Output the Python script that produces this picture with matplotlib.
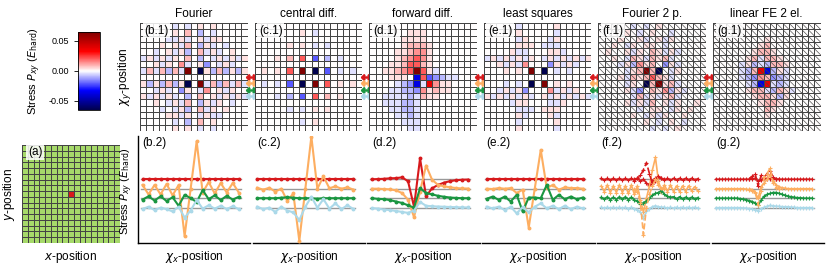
import matplotlib.pyplot as plt
from matplotlib.colors import ListedColormap
import matplotlib.cm as cm
import matplotlib.colors as mcolors

plt.rcParams['font.family'] = ['Liberation Sans', 'DejaVu Sans']
plt.rcParams['mathtext.fontset'] = 'dejavusans'
plt.rcParams['font.size'] = 8

# ---------------------------------------------------------------- data
methods = ['Fourier', 'central diff.', 'forward diff.', 'least squares',
           'Fourier 2 p.', 'linear FE 2 el.']
tags = ['b', 'c', 'd', 'e', 'f', 'g']

# heatmap cell codes -> stress P_xy (E_hard)
levels = {'N': -0.08, 's': -0.038, 'B': -0.021, 'b': -0.014, 'm': -0.009,
          '-': -0.004, '.': 0.0, '+': 0.004, 'p': 0.009, 'r': 0.014,
          'R': 0.021, 'S': 0.038, 'D': 0.08}

map_b = [".....-.-.+.+.....",
         ".....+.p.m.-.....",
         "....--+-.+-++....",
         "...+.+-p.m+-.-...",
         "..-.+-+m.p-+-.+..",
         "-+-+-+.p.m.-+-+-+",
         "..+-+.r-.+b.-+-..",
         "-p-pmp-D.N+mpm+m+",
         ".................",
         "+m+mpm+N.D-pmp-p-",
         "..-+-.b+.-r.+-+..",
         "+-+-+-.m.p.+-+-+-",
         "..+.-+-p.m+-+.-..",
         "...-.-+m.p-+.+...",
         "....++-+.-+--....",
         ".....-.m.p.+.....",
         ".....+.+.-.-....."]
map_c = [".................",
         ".......+.-.......",
         ".................",
         ".....+.+.-.-.....",
         ".................",
         "...+.p.R.B.m.-...",
         ".................",
         ".+.+.R.D.N.B.-.-.",
         ".................",
         ".-.-.B.N.D.R.+.+.",
         ".................",
         "...-.m.B.R.p.+...",
         ".................",
         ".....-.-.+.+.....",
         ".................",
         ".......-.+.......",
         "................."]
map_d = [".................",
         "......+++........",
         ".....++++........",
         ".....+ppp+.......",
         "....++prr+.......",
         "....+prRr+.......",
         "...++pRRp+.......",
         "..++prRDR+-......",
         "...+++.sRBbm--...",
         "....-mbs-Sr++....",
         "...--mmbr+p++....",
         "..----m-p++......",
         "..---mm-.........",
         "...--mm-.........",
         "....--m-.........",
         ".....---.........",
         "......--........."]
map_e = [".....-.....+.....",
         ".....+.....-.....",
         ".....-+...-+.....",
         ".....+++.---.....",
         "....+--...++-....",
         "-+-+-+-+.-+-+-+-+",
         "..+-+-r...b+-+-..",
         "...+.+.D.N.-.-...",
         ".................",
         "...-.-.N.D.+.+...",
         "..-+-+b...r-+-+..",
         "+-+-+-+-.+-+-+-+-",
         "....-++...--+....",
         ".....---.+++.....",
         ".....+-...+-.....",
         ".....-.....+.....",
         ".....+.....-....."]
map_f = [".....-.-.+.......",
         "....+.-.+..-.....",
         "...+..+-.+-+.....",
         "..+.-+.++.-......",
         ".+..+-+.p+-+-....",
         "..+.-p+-p+p-.....",
         "...-+mr+p.b+-....",
         "....-+pDpN.-+....",
         "...+-p+pRp+-.....",
         "....-+.NpD+p-....",
         "....+-b.p+rm+-...",
         ".....-p-+-+p-....",
         "....+-+-p.+-+..+.",
         "......-.++.-+.+..",
         ".....+.-+-+..+...",
         ".......+.-.+.-...",
         "........-.-.+...."]
map_g = [".................",
         ".................",
         "........+........",
         ".......+p........",
         "......+pp+.......",
         ".....+p-pp+......",
         "....-+m-mpp+.....",
         "....-mpSsm+-.....",
         "....-mbrpbm-.....",
         ".....-msS-m-.....",
         ".....+pp-mp+-....",
         "......+pp+m+.....",
         ".......+pp+......",
         "........p+.......",
         "........+........",
         ".................",
         "................."]
heatmaps = [map_b, map_c, map_d, map_e, map_f, map_g]

# line cuts along rows 8..11 (unit = spacing between the grey baselines)
pos17 = [0, 1, 2, 3, 4, 5, 6, 7, 8, 9, 10, 11, 12, 13, 14, 15, 16]
pos33 = [0, 0.5, 1, 1.5, 2, 2.5, 3, 3.5, 4, 4.5, 5, 5.5, 6, 6.5, 7, 7.5, 8,
         8.5, 9, 9.5, 10, 10.5, 11, 11.5, 12, 12.5, 13, 13.5, 14, 14.5, 15,
         15.5, 16]
pos_mid = [5.5, 6, 6.5, 7, 7.5, 8, 8.5, 9, 9.5, 10, 10.5]

red_b = [0, 0, 0, 0, 0, 0, 0, 0, 0, 0, 0, 0, 0, 0, 0, 0, 0]
orange_b = [0.4, -0.6, 0.4, -0.6, 0.5, -0.7, 0.4, -5.0, 0.0, 5.0, -0.4, 0.7,
            -0.5, 0.6, -0.4, 0.6, -0.4]
green_b = [-0.15, 0.2, -0.25, 0.2, -0.3, 0.1, -0.8, 0.35, 0.0, -0.4, 0.85,
           -0.1, 0.3, -0.2, 0.25, -0.15, 0.15]
lblue_b = [-0.15, 0.1, -0.25, 0.0, -0.15, -0.4, 0.1, -1.05, -0.3, 0.8, -0.1,
           0.25, -0.1, 0.2, -0.15, 0.15, -0.15]

red_c = [0, 0, 0, 0, 0, 0, 0, 0, 0, 0, 0, 0, 0, 0, 0, 0, 0]
orange_c = [0.1, -0.1, 0.1, -0.3, 0.0, -1.3, -0.5, -5.5, 0.0, 5.5, 0.0, 1.3,
            0.05, 0.25, 0.0, 0.15, -0.1]
green_c = [0, 0, 0, 0, 0.05, 0.1, 0.05, 0, 0, 0, -0.05, 0, 0, 0, 0, 0, 0]
lblue_c = [0.1, -0.15, 0.0, -0.45, 0.1, -0.3, -0.5, -1.3, 0.1, 1.15, 0.0,
           0.9, -0.1, 0.45, -0.15, 0.25, -0.15]

red_d = [0.0, 0.02, 0.05, 0.1, 0.12, 0.2, -0.2, -2.9, 2.2, -1.8, -0.95, -0.6,
         -0.35, -0.2, -0.1, -0.05, -0.03]
orange_d = [0.0, 0.0, -0.03, -0.07, -0.17, -0.45, -1.15, -3.0, -0.3, 2.45,
            0.95, 0.4, 0.25, 0.15, 0.07, 0.03, 0.02]
green_d = [0.0, -0.07, -0.1, -0.2, -0.35, -0.5, -0.75, -1.0, 1.05, 0.55, 0.4,
           0.25, 0.15, 0.07, 0.03, 0.0, 0.0]
lblue_d = [-0.05, -0.1, -0.2, -0.25, -0.35, -0.45, -0.55, -0.3, 0.6, 0.2,
           0.15, 0.12, 0.1, 0.07, 0.05, 0.03, 0.02]

red_e = [0, 0, 0, 0, 0, 0, 0, 0, 0, 0, 0, 0, 0, 0, 0, 0, 0]
orange_e = [0.0, -0.03, 0.07, 0.0, 0.07, -0.45, -0.1, -4.1, 0.0, 4.1, 0.07,
            0.4, -0.1, 0.15, 0.07, 0.07, 0.0]
green_e = [-0.07, 0.17, -0.17, 0.17, -0.35, 0.35, -1.4, 0.07, 0.07, 0.0, 1.4,
           -0.17, 0.35, -0.1, 0.17, -0.1, 0.07]
lblue_e = [0.1, -0.07, 0.1, -0.25, 0.1, -0.6, 0.07, -0.5, 0.1, 0.45, -0.07,
           0.2, -0.15, 0.2, -0.15, 0.1, -0.07]

red_f = [0.1, -0.1, 0.1, -0.1, 0.1, -0.1, 0.1, -0.1, 0.1, -0.1, 0.1, -0.15,
         0.1, -0.2, 0.0, -0.4, -0.6, -0.2, 0.1, 0.2, 0.1, -0.1, 0.1, -0.1, 0.1,
         -0.1, 0.1, -0.1, 0.1, -0.1, 0.1, -0.1, 0.05]
orange_f = [0.3, -0.3, 0.4, -0.4, 0.3, -0.4, 0.4, -0.4, 0.3, -0.5, 0.4, -0.6,
            0.3, -1.2, -2.45, -1.0, 0.3, 2.0, 3.3, 0.8, -0.3, 0.4, -0.3, 0.4,
            -0.3, 0.3, -0.3, 0.3, -0.3, 0.3, -0.2, 0.2, -0.2]
green_f = [0.1, -0.1, 0.15, -0.15, 0.1, -0.15, 0.15, -0.1, 0.15, -0.15, 0.1,
           -0.2, -0.3, -0.6, -0.5, -0.3, 0.0, 0.3, 0.5, 0.6, 0.8, 0.4, 0.2,
           0.1, 0.15, -0.1, 0.15, -0.1, 0.1, -0.1, 0.1, -0.1, 0.05]
lblue_f = [0.05, -0.05, 0.05, -0.05, 0.05, -0.05, 0.05, -0.05, 0.05, -0.1,
           0.05, -0.1, -0.2, -0.5, -1.05, -0.4, -0.1, 0.1, 0.2, 0.1, 0.05,
           0.05, -0.05, 0.05, -0.05, 0.05, -0.05, 0.05, -0.05, 0.05, -0.05,
           0.05, -0.05]
red_f2 = [0, 0.1, 0.4, 1.0, 1.75, 0.6, -0.5, -0.2, 0.3, 0.1, 0]
orange_f2 = [0, -0.3, -1.5, -4.85, -2.0, -0.6, 0.3, 1.0, 0.4, 0.1, 0]

red_g = [0, 0, 0, 0, 0, 0, 0, 0, 0, 0, 0, 0, 0.05, 0.1, -0.2, -0.1, 0.1, 0.0,
         0.05, 0, 0, 0, 0, 0, 0, 0, 0, 0, 0, 0, 0, 0, 0]
orange_g = [0, 0, 0, 0, 0, 0, 0, 0, 0, 0, -0.05, -0.1, -0.2, -0.4, -1.0, 0.2,
            0.6, 1.0, 1.4, 0.8, 0.4, 0.2, 0.1, 0.05, 0, 0, 0, 0, 0, 0, 0, 0, 0]
green_g = [0, 0, 0, 0, 0, 0, 0, 0, -0.05, -0.1, -0.15, -0.25, -0.35, -0.5,
           -0.75, -0.2, 0.2, 0.4, 0.5, 0.6, 0.6, 0.5, 0.4, 0.3, 0.2, 0.15, 0.1,
           0.05, 0.05, 0, 0, 0, 0]
lblue_g = [0, 0, 0, 0, 0, 0, 0, 0, 0, -0.05, -0.05, -0.1, -0.15, -0.2, -0.3,
           -0.1, 0.05, 0.15, 0.25, 0.2, 0.15, 0.15, 0.1, 0.1, 0.1, 0.05, 0.05,
           0, 0, 0, 0, 0, 0]
red_g2 = [0, 0.3, 0.6, -0.7, 0.4, 0.2, 0.6, 0.9, 0.2, 0, 0]
orange_g2 = [0, -0.1, -0.3, -1.7, -0.2, 1.2, 1.6, 2.2, 0.6, 0.1, 0]

# (positions, values, linestyle, colour index)
cuts = {
    'b': [(pos17, red_b, '-', 0), (pos17, orange_b, '-', 1),
          (pos17, green_b, '-', 2), (pos17, lblue_b, '-', 3)],
    'c': [(pos17, red_c, '-', 0), (pos17, orange_c, '-', 1),
          (pos17, green_c, '-', 2), (pos17, lblue_c, '-', 3)],
    'd': [(pos17, red_d, '-', 0), (pos17, orange_d, '-', 1),
          (pos17, green_d, '-', 2), (pos17, lblue_d, '-', 3)],
    'e': [(pos17, red_e, '-', 0), (pos17, orange_e, '-', 1),
          (pos17, green_e, '-', 2), (pos17, lblue_e, '-', 3)],
    'f': [(pos33, red_f, '-', 0), (pos33, orange_f, '-', 1),
          (pos33, green_f, '-', 2), (pos33, lblue_f, '-', 3),
          (pos_mid, red_f2, '--', 0), (pos_mid, orange_f2, '--', 1)],
    'g': [(pos33, red_g, '-', 0), (pos33, orange_g, '-', 1),
          (pos33, green_g, '-', 2), (pos33, lblue_g, '-', 3),
          (pos_mid, red_g2, '--', 0), (pos_mid, orange_g2, '--', 1)],
}
cut_rows = [8, 9, 10, 11]
cut_offsets = [3, 2, 1, 0]
cut_colors = ['#d7191c', '#fdae61', '#1a9641', '#abd9e9']

n_cells = 17
defect = (8, 8)

# ---------------------------------------------------------------- figure
W, H = 831, 266
fig = plt.figure(figsize=(W / 100, H / 100), dpi=100)


def box(x0, y0, x1, y1):
    return fig.add_axes([x0 / W, 1 - y1 / H, (x1 - x0) / W, (y1 - y0) / H])


vmax = 0.065
norm = mcolors.Normalize(-vmax, vmax)
cmap = plt.get_cmap('seismic')
tagbox = dict(fc='white', ec='none', alpha=0.85, pad=1.2)
gridcol = '#444444'

# colorbar
cax = box(78, 32, 100, 110)
cb = fig.colorbar(cm.ScalarMappable(norm=norm, cmap=cmap), cax=cax,
                  ticks=[-0.05, 0, 0.05], format='%.2f')
cax.yaxis.set_ticks_position('left')
cax.yaxis.set_label_position('left')
cax.tick_params(labelsize=6.5, length=3, width=0.6)
cb.outline.set_linewidth(0.6)
cb.set_label('Stress $P_{xy}$ ($E_\\mathrm{hard}$)', fontsize=8)
cax.yaxis.set_label_coords(-1.6, 0.5)

# panel (a): the simulation grid with the defect cell
axa = box(22, 145, 120, 243)
grid_a = [[1 if (r, c) == defect else 0 for c in range(n_cells)]
          for r in range(n_cells)]
axa.pcolormesh(grid_a, cmap=ListedColormap(['#a6d96a', '#d7191c']),
               edgecolors=gridcol, linewidth=0.45)
axa.set_xlim(0, n_cells)
axa.set_ylim(n_cells, 0)
axa.set_xticks([])
axa.set_yticks([])
for s in axa.spines.values():
    s.set_visible(False)
axa.set_xlabel('$x$-position', fontsize=8.5, labelpad=4)
axa.set_ylabel('$y$-position', fontsize=8.5)
axa.yaxis.set_label_coords(-0.05, 0.5)
axa.text(0.06, 0.985, '(a)', transform=axa.transAxes, va='top', ha='left',
         fontsize=8.5, bbox=tagbox)

# top row: stress maps
for i, (name, tag, grid) in enumerate(zip(methods, tags, heatmaps)):
    x0 = 140 + 114.6 * i
    ax = box(x0, 23, x0 + 107.5, 131)
    vals = [[levels[ch] for ch in row] for row in grid]
    ax.pcolormesh(vals, cmap=cmap, norm=norm, edgecolors=gridcol,
                  linewidth=0.45)
    if tag in ('f', 'g'):
        for k in range(n_cells):
            for j in range(n_cells):
                ax.plot([j, j + 1], [k, k + 1], color=gridcol, lw=0.45)
    ax.set_xlim(0, n_cells)
    ax.set_ylim(n_cells, 0)
    ax.set_xticks([])
    ax.set_yticks([])
    for s in ax.spines.values():
        s.set_visible(False)
    ax.set_title(name, fontsize=8.5, pad=4)
    ax.text(0.04, 0.985, '(%s.1)' % tag, transform=ax.transAxes, va='top',
            ha='left', fontsize=8.5, bbox=tagbox)
    if i == 0:
        ax.set_ylabel('$\\chi_y$-position', fontsize=8.5, labelpad=5)
    if i < len(methods) - 1:
        for row, col in zip(cut_rows, cut_colors):
            ax.plot([17.55], [row + 0.5], marker='$\\leftrightarrow$',
                    ms=7, color=col, clip_on=False)

# bottom row: cuts through the stress maps
for i, tag in enumerate(tags):
    x0 = 138 + 114.7 * i
    ax = box(x0, 135.7, x0 + 112.5, 243)
    for off in cut_offsets:
        ax.plot([-0.25, 16.3], [off, off], color='#999999', lw=1, zorder=1)
    for xs, vals, ls, k in cuts[tag]:
        ys = [cut_offsets[k] + v for v in vals]
        if tag in ('f', 'g'):
            ax.plot(xs, ys, color=cut_colors[k], ls=ls, lw=1.2, marker='+',
                    ms=3.5, mew=0.8, zorder=3)
        else:
            ax.plot(xs, ys, color=cut_colors[k], ls=ls, lw=1.5, marker='o',
                    ms=1.8, zorder=3)
    ax.set_xlim(-0.75, 17.95)
    ax.set_ylim(-3.73, 7.6)
    ax.set_xticks([])
    ax.set_yticks([])
    for s in ('top', 'right'):
        ax.spines[s].set_visible(False)
    ax.spines['bottom'].set_linewidth(1.0)
    if i == 0:
        ax.spines['left'].set_linewidth(1.0)
        ax.set_ylabel('Stress $P_{xy}$ ($E_\\mathrm{hard}$)', fontsize=8)
        ax.yaxis.set_label_coords(-0.03, 0.48)
    else:
        ax.spines['left'].set_visible(False)
    ax.set_xlabel('$\\chi_x$-position', fontsize=8.5, labelpad=4)
    ax.text(0.04, 0.985, '(%s.2)' % tag, transform=ax.transAxes, va='top',
            ha='left', fontsize=8.5)

fig.savefig('out.png', dpi=100)
